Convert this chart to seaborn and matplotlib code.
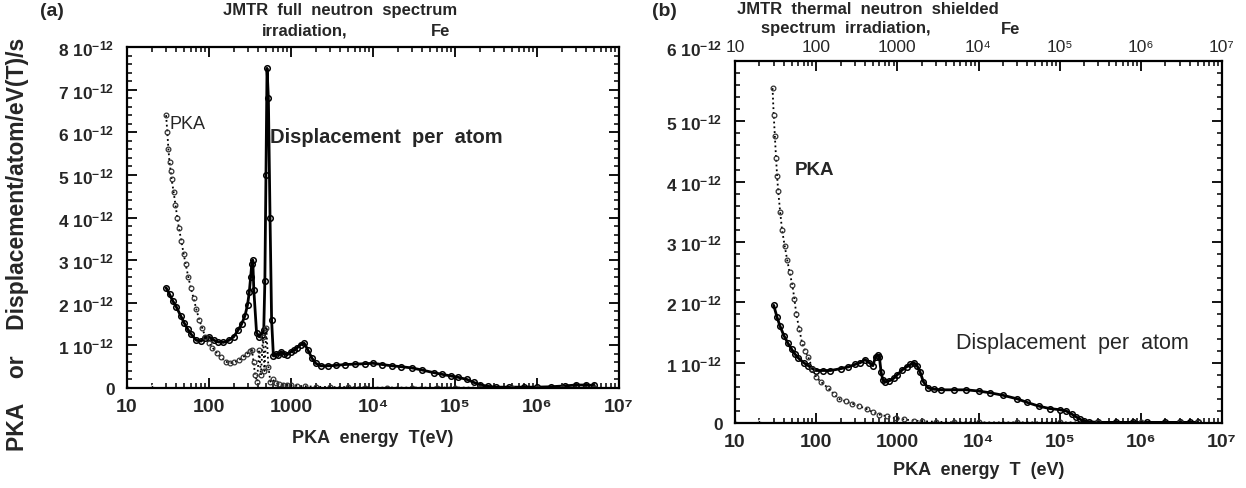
import numpy as np
import pandas as pd
import matplotlib
matplotlib.use("Agg")
import matplotlib.pyplot as plt
import matplotlib.transforms as mtransforms
import seaborn as sns
from matplotlib.ticker import FixedLocator, MultipleLocator, NullFormatter

# ---------------- data (units of 1e-12) ----------------
# panel (a) JMTR full spectrum
xa_dpa = [30, 33, 36, 40, 45, 50, 55, 60, 70, 80, 90, 100, 115, 130, 150, 175, 200, 225, 250, 275,
          295, 310, 322, 332, 342, 352, 380, 410, 440, 465, 480, 495, 510, 530, 555, 580, 610, 650,
          700, 760, 820, 900, 1000, 1100, 1200, 1320, 1450, 1600, 1800, 2000, 2300, 2800, 3500,
          4500, 6000, 8000, 10000, 13000, 17000, 22000, 30000, 40000, 55000, 70000, 90000, 110000,
          140000, 170000, 200000, 250000, 320000, 450000, 700000, 1000000, 1500000, 2200000,
          3000000, 4000000, 5000000]
ya_dpa = [2.35, 2.2, 2.05, 1.9, 1.7, 1.52, 1.38, 1.27, 1.12, 1.1, 1.18, 1.2, 1.12, 1.08, 1.07, 1.12,
          1.2, 1.35, 1.5, 1.7, 1.95, 2.25, 2.6, 2.9, 3.0, 2.3, 1.3, 1.2, 1.25, 1.35, 2.5, 5.0, 7.5,
          6.8, 4.0, 1.6, 0.75, 0.8, 0.78, 0.85, 0.8, 0.78, 0.85, 0.9, 0.95, 1.02, 1.05, 0.9, 0.7,
          0.58, 0.52, 0.52, 0.53, 0.55, 0.56, 0.57, 0.58, 0.55, 0.52, 0.5, 0.47, 0.42, 0.36, 0.32,
          0.28, 0.25, 0.2, 0.13, 0.08, 0.04, 0.02, 0.02, 0.02, 0.02, 0.03, 0.05, 0.07, 0.07, 0.06]

xa_pka = [30, 31, 32, 33, 34, 35, 37, 39, 41, 43, 46, 49, 52, 56, 60, 65, 70, 76, 83, 90, 100, 110,
          125, 140, 160, 180, 200, 230, 260, 290, 315, 335, 350, 365, 385, 410, 430, 455, 475, 500,
          530, 560, 600, 650, 720, 800, 900, 1000, 1200, 1500, 2000, 3000, 5000, 8000, 15000,
          30000, 60000, 100000, 200000, 500000, 1000000, 2000000, 5000000]
ya_pka = [6.4, 6.0, 5.6, 5.3, 5.1, 4.9, 4.6, 4.3, 4.0, 3.75, 3.45, 3.15, 2.9, 2.6, 2.35, 2.1, 1.85,
          1.6, 1.4, 1.2, 1.05, 0.95, 0.82, 0.72, 0.62, 0.58, 0.6, 0.65, 0.72, 0.8, 0.86, 0.88, 0.6,
          0.3, 0.15, 0.9, 0.3, 1.2, 0.4, 1.4, 0.5, 0.15, 0.2, 0.12, 0.1, 0.08, 0.07, 0.06, 0.05,
          0.04, 0.03, 0.02, 0.02, 0.01, 0.01, 0.01, 0.01, 0.01, 0.01, 0.01, 0.01, 0.01, 0.01]

# panel (b) JMTR thermal neutron shielded spectrum
xb_dpa = [30, 33, 36, 40, 45, 50, 55, 60, 70, 80, 90, 100, 120, 150, 200, 250, 300, 350, 400, 450,
          500, 540, 570, 600, 630, 660, 700, 800, 900, 1000, 1150, 1300, 1450, 1600, 1750, 1900,
          2100, 2400, 2800, 3500, 5000, 7000, 10000, 14000, 20000, 30000, 40000, 55000, 75000,
          100000, 120000, 140000, 160000, 180000, 200000, 230000, 300000, 500000, 800000, 1200000,
          2000000, 3000000, 4000000, 5000000]
yb_dpa = [1.95, 1.75, 1.6, 1.45, 1.32, 1.22, 1.14, 1.08, 1.0, 0.95, 0.9, 0.87, 0.87, 0.87, 0.9, 0.93,
          0.97, 1.0, 1.05, 1.0, 0.95, 1.1, 1.13, 1.1, 0.85, 0.72, 0.68, 0.7, 0.74, 0.8, 0.88, 0.93,
          0.97, 1.0, 0.95, 0.85, 0.68, 0.58, 0.56, 0.55, 0.55, 0.55, 0.53, 0.5, 0.46, 0.4, 0.34,
          0.28, 0.24, 0.22, 0.2, 0.15, 0.1, 0.06, 0.03, 0.02, 0.01, 0.01, 0.01, 0.01, 0.01, 0.01,
          0.01, 0.01]

xb_pka = [29, 30, 31, 32, 33, 34, 36, 38, 41, 44, 47, 51, 54, 57, 62, 67, 73, 80, 90, 100, 115, 140,
          165, 190, 230, 280, 340, 420, 500, 600, 750, 950, 1200, 1600, 2000, 3000, 5000, 10000,
          30000, 100000, 300000, 1000000, 3000000, 5000000]
yb_pka = [5.55, 5.1, 4.75, 4.4, 4.1, 3.85, 3.5, 3.2, 2.93, 2.7, 2.5, 2.28, 2.05, 1.8, 1.55, 1.33,
          1.2, 1.09, 0.9, 0.76, 0.68, 0.58, 0.48, 0.4, 0.36, 0.32, 0.28, 0.23, 0.18, 0.14, 0.11,
          0.08, 0.06, 0.04, 0.03, 0.02, 0.01, 0.01, 0.01, 0.01, 0.01, 0.01, 0.01, 0.01]

# low-energy points at zero level
x_low = [10, 20]
y_low = [0.0, 0.0]

x_ticks = [10, 100, 1000, 1e4, 1e5, 1e6, 1e7]
x_ticklabels = ["10", "100", "1000", "10\u2074", "10\u2075", "10\u2076", "10\u2077"]
ya_ticks = [0, 1, 2, 3, 4, 5, 6, 7, 8]
yb_ticks = [0, 1, 2, 3, 4, 5, 6]


def ylab(v):
    return "0" if v == 0 else f"{v} 10$^{{-12}}$"


# ---------------- style ----------------
sns.set_theme(style="ticks")
plt.rcParams["font.family"] = ["Liberation Sans", "DejaVu Sans"]
plt.rcParams["font.weight"] = "bold"
plt.rcParams["axes.linewidth"] = 1.6
plt.rcParams["mathtext.fontset"] = "custom"
plt.rcParams["mathtext.rm"] = "Liberation Sans:bold"
plt.rcParams["mathtext.bf"] = "Liberation Sans:bold"
plt.rcParams["mathtext.it"] = "Liberation Sans:bold"
plt.rcParams["mathtext.default"] = "rm"

W, H = 1246, 489
fig = plt.figure(figsize=(W / 100, H / 100), dpi=100)
axA = fig.add_axes([127 / W, 1 - 389 / H, (619 - 127) / W, (389 - 48) / H])
axB = fig.add_axes([735 / W, 1 - 424 / H, (1222 - 735) / W, (424 - 62) / H])


def draw(ax, xd, yd, xp, yp):
    sns.lineplot(x=xd, y=yd, ax=ax, color="black", lw=2.0, marker="o", markersize=4.0,
                 markerfacecolor="none", markeredgecolor="black", markeredgewidth=1.1,
                 estimator=None, sort=False)
    sns.lineplot(x=xp, y=yp, ax=ax, color="black", lw=1.3, linestyle=":", marker="o",
                 markersize=3.4, markerfacecolor="none", markeredgecolor="#333333",
                 markeredgewidth=0.9, estimator=None, sort=False)
    sns.lineplot(x=x_low, y=y_low, ax=ax, color="black", lw=1.2, marker="D", markersize=3.5,
                 estimator=None, sort=False)


def style(ax, yticks, ymax):
    ax.set_xscale("log")
    ax.set_xlim(10, 1e7)
    ax.set_ylim(0, ymax)
    ax.xaxis.set_major_locator(FixedLocator(x_ticks))
    ax.set_xticklabels(x_ticklabels)
    minors = [m * 10 ** e for e in range(1, 7) for m in range(2, 10)]
    ax.xaxis.set_minor_locator(FixedLocator(minors))
    ax.xaxis.set_minor_formatter(NullFormatter())
    ax.set_yticks(yticks)
    ax.set_yticklabels([ylab(v) for v in yticks])
    ax.yaxis.set_minor_locator(MultipleLocator(0.2))
    ax.tick_params(which="both", direction="in", top=True, right=True, color="black")
    ax.tick_params(which="major", length=7, width=1.3, pad=7)
    ax.tick_params(axis="x", which="major", labelsize=14)
    ax.tick_params(axis="y", which="major", labelsize=12.5, pad=9)
    ax.tick_params(which="minor", length=3.5, width=1.1)
    for sp in ax.spines.values():
        sp.set_color("black")
        sp.set_linewidth(1.6)
    for t in ax.get_xticklabels() + ax.get_yticklabels():
        t.set_fontweight("bold")
    ax.set_xlabel("")
    ax.set_ylabel("")


draw(axA, xa_dpa, ya_dpa, xa_pka, ya_pka)
draw(axB, xb_dpa, yb_dpa, xb_pka, yb_pka)
style(axA, ya_ticks, 8)
style(axB, yb_ticks, 6)

# top labels of panel (b) in normal weight
axB.tick_params(axis="x", which="major", labeltop=True, pad=4)
for tk in axB.xaxis.get_major_ticks():
    tk.label2.set_fontweight("normal")
    tk.label2.set_fontsize(12.5)
axB.tick_params(axis="x", which="major", labelbottom=True)
for tk in axB.xaxis.get_major_ticks():
    tk.set_pad(7)
    tk.label2.set_transform(tk.label2.get_transform()
                            + mtransforms.ScaledTranslation(0, -0.03, fig.dpi_scale_trans))

# the top y label of panel (b) sits level with the top tick labels
top_lbl = axB.yaxis.get_major_ticks()[-1].label1
top_lbl.set_transform(top_lbl.get_transform()
                      + mtransforms.ScaledTranslation(0, 0.14, fig.dpi_scale_trans))

# axis labels
axA.set_xlabel("PKA  energy  T(eV)", fontsize=13, fontweight="bold", labelpad=10)
axB.set_xlabel("PKA  energy  T  (eV)", fontsize=13, fontweight="bold", labelpad=8)
fig.text(18 / W, 0.50, "PKA    or    Displacement/atom/eV(T)/s", rotation=90, ha="center",
         va="center", fontsize=16.5, fontweight="bold")

# in-plot annotations
axA.text(33, 6.2, "PKA", fontsize=13, fontweight="normal", va="center")
axA.text(560, 5.9, "Displacement  per  atom", fontsize=14.5, fontweight="bold", va="center")
axB.text(55, 4.2, "PKA", fontsize=13.5, fontweight="bold", va="center")
axB.text(5300, 1.33, "Displacement  per  atom", fontsize=15.5, fontweight="normal", va="center")

# titles
fig.text(52 / W, 1 - 11 / H, "(a)", fontsize=14, fontweight="bold", ha="center", va="center")
fig.text(340 / W, 1 - 11 / H, "JMTR  full  neutron  spectrum", fontsize=12, fontweight="bold",
         ha="center", va="center")
fig.text(305 / W, 1 - 31 / H, "irradiation,", fontsize=12, fontweight="bold", ha="center",
         va="center")
fig.text(441 / W, 1 - 31 / H, "Fe", fontsize=12, fontweight="bold", ha="center", va="center")
fig.text(664 / W, 1 - 11 / H, "(b)", fontsize=14, fontweight="bold", ha="center", va="center")
fig.text(868 / W, 1 - 10 / H, "JMTR  thermal  neutron  shielded", fontsize=12,
         fontweight="bold", ha="center", va="center")
fig.text(846 / W, 1 - 29 / H, "spectrum  irradiation,", fontsize=12, fontweight="bold",
         ha="center", va="center")
fig.text(1011 / W, 1 - 29 / H, "Fe", fontsize=12, fontweight="bold", ha="center", va="center")

fig.savefig("out.png", dpi=100)
